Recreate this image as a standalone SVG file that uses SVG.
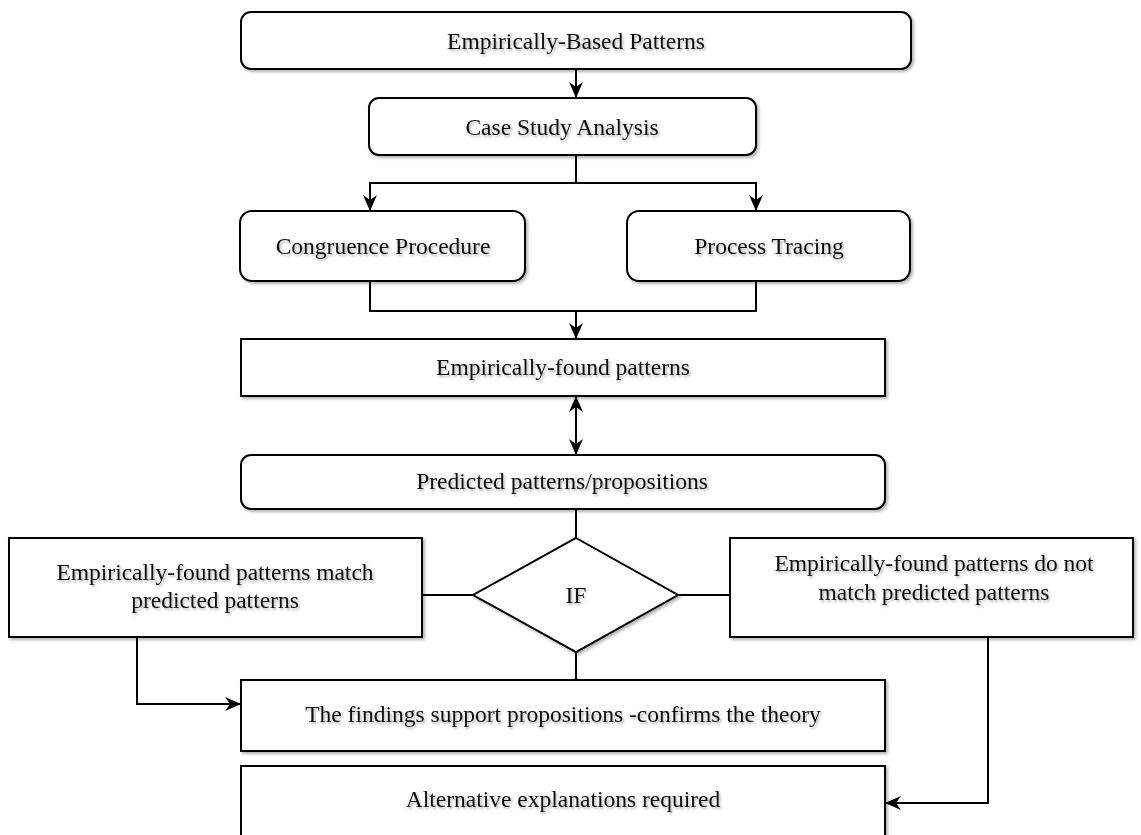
<svg xmlns="http://www.w3.org/2000/svg" width="1141" height="835" viewBox="0 0 1141 835">
<defs>
<filter id="sh" x="-10%" y="-10%" width="120%" height="130%">
<feDropShadow dx="2" dy="2" stdDeviation="1.5" flood-color="#000" flood-opacity="0.3"/>
</filter>
<filter id="tsh" x="-5%" y="-20%" width="110%" height="160%">
<feDropShadow dx="1.5" dy="2" stdDeviation="1.2" flood-color="#000" flood-opacity="0.3"/>
</filter>
<marker id="arr" viewBox="0 0 16 14" refX="15" refY="7" markerWidth="16" markerHeight="14" markerUnits="userSpaceOnUse" orient="auto-start-reverse">
<path d="M0,0 L16,7 L0,14 L5,7 z" fill="#000"/>
</marker>
</defs>
<style>
.box{fill:#fff;stroke:#000;stroke-width:2;filter:url(#sh)}
.t{font-family:"Liberation Serif","Times New Roman",serif;font-size:23.5px;fill:#111;text-anchor:middle;filter:url(#tsh)}
.c{fill:none;stroke:#000;stroke-width:2}
</style>
<rect width="1141" height="835" fill="#fff"/>
<g id="connectors">
<path class="c" d="M576,69 V97" marker-end="url(#arr)"/>
<path class="c" d="M576,155 V183 H370 V210" marker-end="url(#arr)"/>
<path class="c" d="M576,183 H756 V210" marker-end="url(#arr)"/>
<path class="c" d="M370,281 V311 H756 V281"/>
<path class="c" d="M576,311 V338" marker-end="url(#arr)"/>
<path class="c" d="M576,397 V454" marker-start="url(#arr)" marker-end="url(#arr)"/>
<path class="c" d="M576,509 V538"/>
<path class="c" d="M422,595 H473"/>
<path class="c" d="M678,595 H730"/>
<path class="c" d="M576,652 V680"/>
<path class="c" d="M137,637 V704 H240" marker-end="url(#arr)"/>
<path class="c" d="M988,637 V803 H886" marker-end="url(#arr)"/>
</g>
<g id="n-empirically-based">
<rect class="box" x="241" y="12" width="670" height="57" rx="10"/>
<text class="t" x="576" y="49">Empirically-Based Patterns</text>
</g>
<g id="n-case-study">
<rect class="box" x="369" y="98" width="387" height="57" rx="10"/>
<text class="t" x="562" y="135">Case Study Analysis</text>
</g>
<g id="n-congruence">
<rect class="box" x="240" y="211" width="285" height="70" rx="12"/>
<text class="t" x="383" y="254">Congruence Procedure</text>
</g>
<g id="n-process">
<rect class="box" x="627" y="211" width="283" height="70" rx="12"/>
<text class="t" x="769" y="254">Process Tracing</text>
</g>
<g id="n-empirically-found">
<rect class="box" x="241" y="339" width="644" height="57"/>
<text class="t" x="563" y="375">Empirically-found patterns</text>
</g>
<g id="n-predicted">
<rect class="box" x="241" y="455" width="644" height="54" rx="10"/>
<text class="t" x="562" y="489">Predicted patterns/propositions</text>
</g>
<g id="n-match">
<rect class="box" x="9" y="538" width="413" height="99"/>
<text class="t" x="215" y="580">Empirically-found patterns match</text>
<text class="t" x="215" y="608">predicted patterns</text>
</g>
<g id="n-if">
<polygon class="box" points="576,538 678,595 576,652 473,595"/>
<text class="t" x="576" y="603">IF</text>
</g>
<g id="n-not-match">
<rect class="box" x="730" y="538" width="403" height="99"/>
<text class="t" x="934" y="571">Empirically-found patterns do not</text>
<text class="t" x="934" y="600">match predicted patterns</text>
</g>
<g id="n-findings">
<rect class="box" x="241" y="680" width="644" height="71"/>
<text class="t" x="563" y="722">The findings support propositions -confirms the theory</text>
</g>
<g id="n-alternative">
<rect class="box" x="241" y="766" width="644" height="90"/>
<text class="t" x="563" y="807">Alternative explanations required</text>
</g>
</svg>
